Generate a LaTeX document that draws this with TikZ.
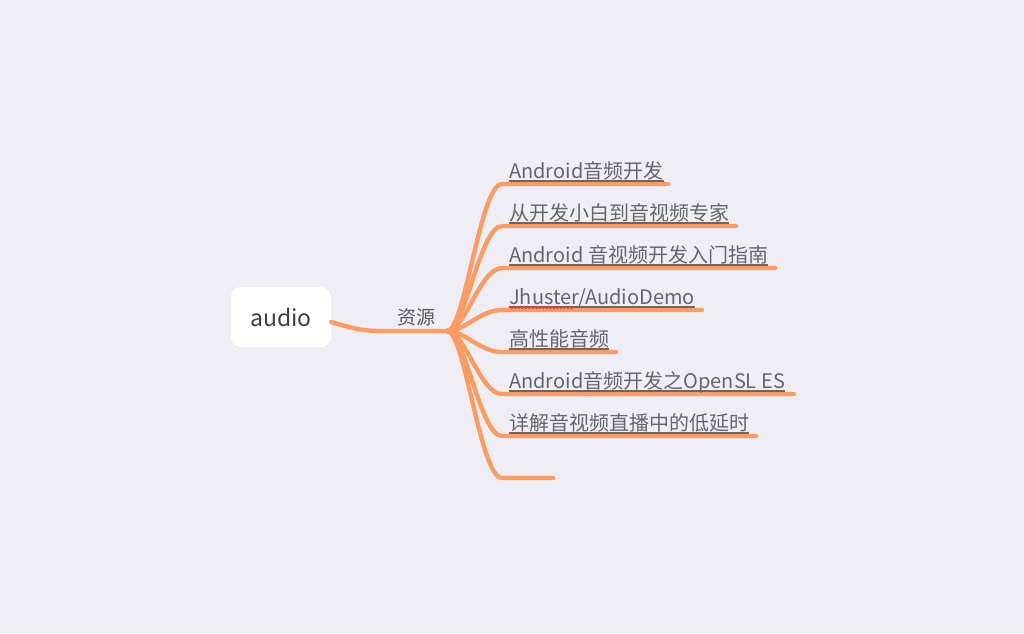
\documentclass[tikz,border=0pt]{standalone}
\usepackage{fontspec}
\setmainfont{Noto Sans CJK SC}
\usetikzlibrary{decorations.pathmorphing}
\definecolor{bgc}{RGB}{239,238,244}
\definecolor{branchc}{RGB}{255,155,94}
\definecolor{leaftext}{RGB}{102,102,110}
\definecolor{roottext}{RGB}{60,60,64}
\definecolor{labeltext}{RGB}{90,90,96}
\definecolor{spellred}{RGB}{214,70,70}
\begin{document}
\begin{tikzpicture}[x=1pt,y=-1pt,
  branch/.style={draw=branchc,line width=4.3pt,line cap=round,line join=round},
  rootbox/.style={fill=white,rounded corners=10pt,minimum width=100pt,minimum height=60pt,inner sep=0pt,text=roottext,font=\fontsize{23}{26}\selectfont},
  reslabel/.style={inner sep=0pt,text=labeltext,font=\fontsize{19}{22}\selectfont},
  leaf/.style={anchor=base west,inner sep=0pt,text=leaftext,font=\fontsize{20}{23}\selectfont},
  uline/.style={draw=leaftext,line width=1.4pt}]
\fill[bgc] (0,0) rectangle (1024,633);
\useasboundingbox (0,0) rectangle (1024,633);
\node[rootbox] (root) at (281,317) {audio};
\node[reslabel] (res) at (416,317) {资源};
\coordinate (hub) at (447,331);
\draw[branch] ([yshift=-5pt]root.east) .. controls (358,330) and (365,331) .. (385,331) -- (hub);
\foreach \y/\e [count=\i] in {184/668,226/736,268/775,310/702,352/616,394/794,436/756,478/553}{
  \coordinate (c\i) at (502,\y);
  \coordinate (e\i) at (\e,\y);
  \draw[branch] (hub) .. controls (465,331) and (480,\y) .. (c\i) -- (e\i);
}
\node[leaf] (t1) at (509,178) {Android音频开发};
\node[leaf] (t2) at (509,220) {从开发小白到音视频专家};
\node[leaf] (t3) at (509,262) {Android 音视频开发入门指南};
\node[leaf] (t4) at (509,304) {Jhuster/AudioDemo};
\node[leaf] (t5) at (509,346) {高性能音频};
\node[leaf] (t6) at (509,388) {Android音频开发之OpenSL ES};
\node[leaf] (t7) at (509,430) {详解音视频直播中的低延时};
\foreach \i in {1,...,7}{
  \draw[uline] ([yshift=-3pt]t\i.base west) -- ([yshift=-3pt]t\i.base east);
}
\draw[spellred,line width=1.1pt,decorate,decoration={snake,amplitude=1.1pt,segment length=3.5pt}] ([yshift=-3.5pt]t4.base west) -- ++(66,0);
\end{tikzpicture}
\end{document}
